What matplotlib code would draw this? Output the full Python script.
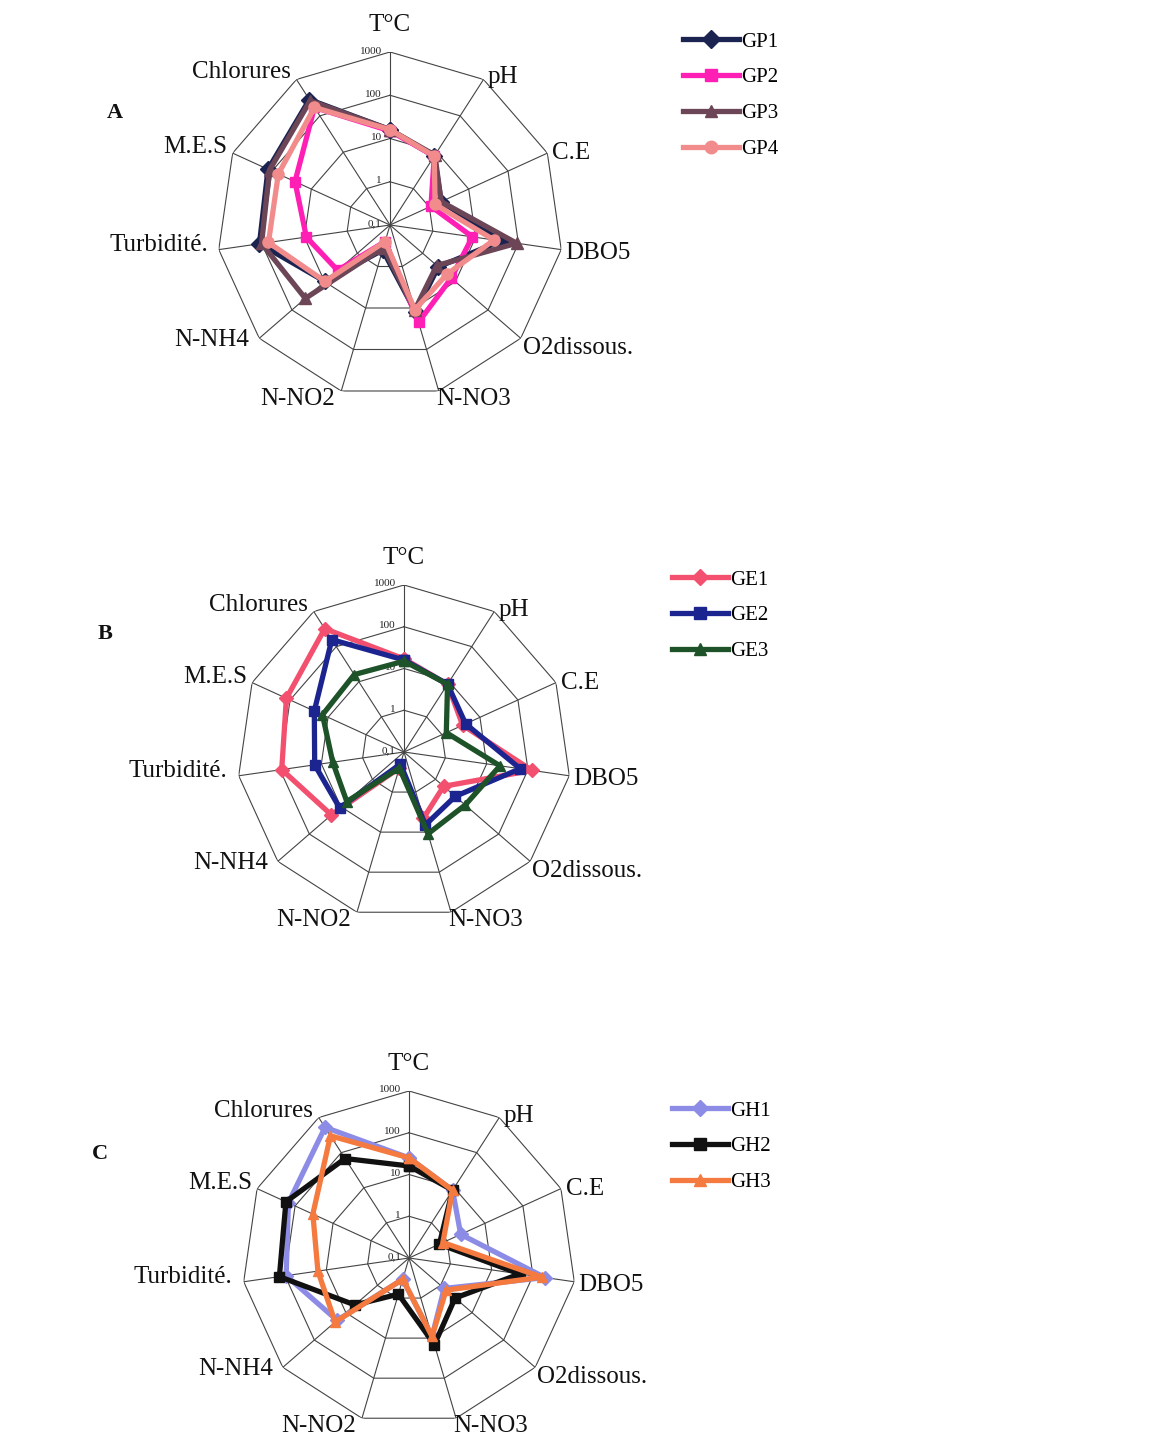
import numpy as np
import matplotlib
matplotlib.use("Agg")
import matplotlib.pyplot as plt
from matplotlib.lines import Line2D

plt.rcParams['font.family'] = ['Liberation Serif', 'DejaVu Serif']

# ---- data -------------------------------------------------------------
categories = ["T°C", "pH", "C.E", "DBO5", "O2dissous.", "N-NO3", "N-NO2",
              "N-NH4", "Turbidité.", "M.E.S", "Chlorures"]
ring_values = [0.1, 1, 10, 100, 1000]
ring_labels = ["0,1", "1", "10", "100", "1000"]

# Groupe A
GP1 = [16, 7.8, 2.0, 39, 3.0, 12.5, 0.40, 9.8, 112, 126, 280]
GP2 = [15, 7.8, 1.1, 8.4, 7.5, 22, 0.25, 4.0, 9.0, 26, 170]
GP3 = [16, 8.3, 2.0, 91, 2.7, 11, 0.35, 39, 100, 115, 260]
GP4 = [16, 7.8, 1.4, 27, 5.5, 11, 0.25, 9.8, 69, 69, 170]

# Groupe B
GE1 = [17, 8.5, 3.5, 125, 1.8, 4.5, 0.25, 20, 91, 125, 325]
GE2 = [16, 8.5, 4.2, 65, 4.2, 6.6, 0.20, 11, 14.5, 23, 158]
GE3 = [15, 8.5, 1.3, 21, 8.7, 11, 0.25, 6.5, 5.3, 14, 16]

# Groupe C
GH1 = [25, 8.5, 2.3, 195, 1.3, 9.1, 0.34, 19, 94, 150, 525]
GH2 = [16, 8.5, 0.63, 48, 2.9, 14.5, 0.80, 5.2, 137, 174, 68]
GH3 = [25, 8.5, 0.78, 162, 1.5, 9.1, 0.34, 22, 16, 34, 302]

# ---- figure -------------------------------------------------------------
W, H, DPI = 1151, 1437, 100
fig = plt.figure(figsize=(W / DPI, H / DPI), dpi=DPI)
fig.patch.set_facecolor("white")

n = len(categories)
theta = np.arange(n) * 2 * np.pi / n
theta_closed = np.append(theta, theta[0])
PX = 72.0 / DPI  # pixels -> points

# label placement around the outer ring (offset in px, alignment)
label_style = [
    ((0, 16), "center", "bottom"),   # T°C
    ((4, 2), "left", "center"),      # pH
    ((5, 0), "left", "center"),      # C.E
    ((4, -3), "left", "center"),     # DBO5
    ((2, -10), "left", "center"),    # O2dissous.
    ((-3, 3), "left", "top"),        # N-NO3
    ((-6, 3), "right", "top"),       # N-NO2
    ((-10, -2), "right", "center"),  # N-NH4
    ((-11, 5), "right", "center"),   # Turbidité.
    ((-5, 6), "right", "center"),    # M.E.S
    ((-6, 7), "right", "center"),    # Chlorures
]


def radar(cx, cy, R, series, names, colors, markers, sizes, letter, letter_xy,
          legend_xy):
    ax = fig.add_axes([(cx - R) / W, (H - cy - R) / H, 2 * R / W, 2 * R / H],
                      projection="polar")
    ax.set_theta_zero_location("N")
    ax.set_theta_direction(-1)
    ax.set_rscale("log")
    ax.set_rlim(0.1, 1000)
    ax.grid(False)
    ax.set_xticks([])
    ax.set_yticks([])
    ax.spines["polar"].set_visible(False)
    ax.patch.set_alpha(0)

    # polygonal web
    for rv in ring_values[1:]:
        ax.plot(theta_closed, [rv] * (n + 1), color="#444444", lw=0.8, zorder=1)
    for t in theta:
        ax.plot([t, t], [0.1, 1000], color="#444444", lw=0.8, zorder=1)

    # scale labels along the first spoke
    for rv, rl in zip(ring_values, ring_labels):
        ax.annotate(rl, xy=(0, rv), xytext=(-8 * PX, 1 * PX),
                    textcoords="offset points", ha="right", va="center",
                    fontsize=8, color="#222222", annotation_clip=False)

    # category labels
    for t, cat, (off, ha, va) in zip(theta, categories, label_style):
        ax.annotate(cat, xy=(t, 1000), xytext=(off[0] * PX, off[1] * PX),
                    textcoords="offset points", ha=ha, va=va, fontsize=18,
                    color="#111111", annotation_clip=False)

    handles = []
    for vals, name, col, mk, ms in zip(series, names, colors, markers, sizes):
        v = np.append(vals, vals[0])
        ax.plot(theta_closed, v, color=col, lw=3.8, marker=mk, ms=ms,
                markerfacecolor=col, markeredgecolor=col, zorder=3,
                clip_on=False)
        handles.append(Line2D([], [], color=col, lw=3.8, marker=mk, ms=ms + 1,
                              markerfacecolor=col, markeredgecolor=col,
                              label=name))

    fig.legend(handles=handles, loc="upper left",
               bbox_to_anchor=(legend_xy[0] / W, 1 - legend_xy[1] / H),
               frameon=False, fontsize=15, handlelength=2.7,
               handletextpad=0.1, labelspacing=0.78, borderpad=0,
               borderaxespad=0, numpoints=1)

    fig.text(letter_xy[0] / W, 1 - letter_xy[1] / H, letter, fontsize=16,
             fontweight="bold", ha="center", va="center", color="#111111")
    return ax


radar(390, 225, 173, [GP1, GP2, GP3, GP4], ["GP1", "GP2", "GP3", "GP4"],
      ["#1b2450", "#ff1fb4", "#6c4656", "#f28c8c"], ["D", "s", "^", "o"],
      [8, 7, 8, 8], "A", (115, 113), (683, 32))

radar(404, 752, 167, [GE1, GE2, GE3], ["GE1", "GE2", "GE3"],
      ["#f2506e", "#1c2490", "#1e5228"], ["D", "s", "^"],
      [7, 7, 7], "B", (105, 634), (672, 570))

radar(409, 1258, 167, [GH1, GH2, GH3], ["GH1", "GH2", "GH3"],
      ["#8c8ce6", "#111111", "#f47a40"], ["D", "s", "^"],
      [7, 7, 7], "C", (100, 1154), (672, 1101))

fig.savefig("out.png", dpi=DPI, facecolor="white")
